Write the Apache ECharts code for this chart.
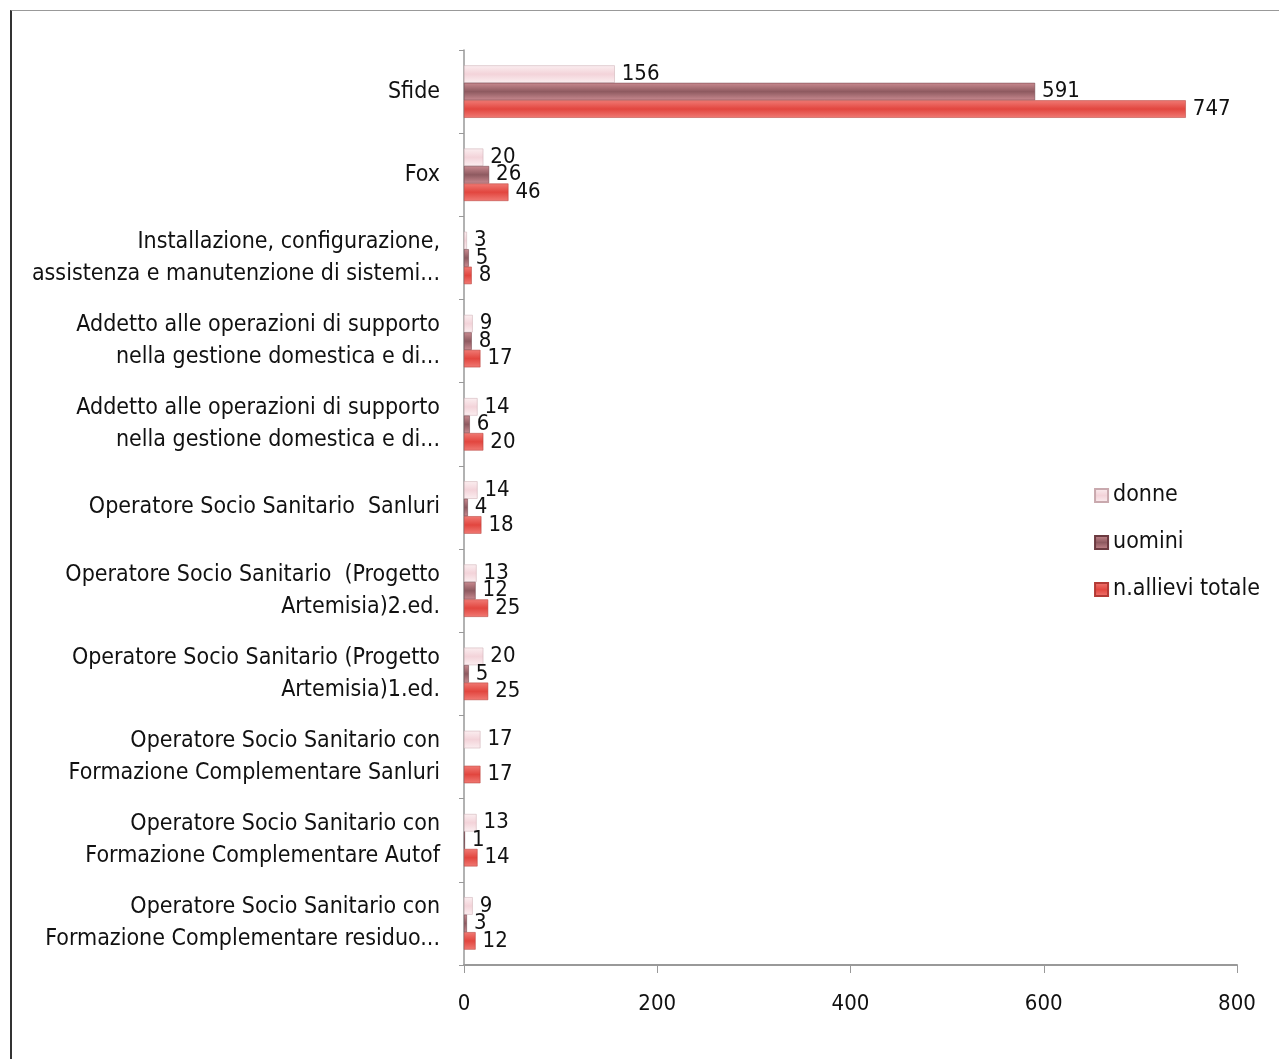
<!DOCTYPE html>
<html>
<head>
<meta charset="utf-8">
<script src="https://cdn.jsdelivr.net/npm/echarts@6/dist/echarts.min.js"></script>
<style>
  html, body { margin: 0; padding: 0; background: #fff; }
  #frame { position: absolute; left: 10px; top: 10px; width: 1290px; height: 1070px;
           border-left: 2px solid #333; border-top: 1px solid #999; }
  #chart { position: absolute; left: 0; top: 0; width: 1279px; height: 1059px; }
</style>
</head>
<body>
<div id="frame"></div>
<div id="chart"></div>
<script>
const categories = [
  "Sfide",
  "Fox",
  "Installazione, configurazione,\nassistenza e manutenzione di sistemi...",
  "Addetto alle operazioni di supporto\nnella gestione domestica e di...",
  "Addetto alle operazioni di supporto\nnella gestione domestica e di...",
  "Operatore Socio Sanitario  Sanluri",
  "Operatore Socio Sanitario  (Progetto\nArtemisia)2.ed.",
  "Operatore Socio Sanitario (Progetto\nArtemisia)1.ed.",
  "Operatore Socio Sanitario con\nFormazione Complementare Sanluri",
  "Operatore Socio Sanitario con\nFormazione Complementare Autof",
  "Operatore Socio Sanitario con\nFormazione Complementare residuo..."
];
const donne = [156, 20, 3, 9, 14, 14, 13, 20, 17, 13, 9];
const uomini = [591, 26, 5, 8, 6, 4, 12, 5, null, 1, 3];
const totale = [747, 46, 8, 17, 20, 18, 25, 25, 17, 14, 12];
const xTicks = { min: 0, max: 800, interval: 200 };

const font = "'Liberation Sans Narrow', 'DejaVu Sans Condensed', 'Open Sans', sans-serif";

function grad(c1, c2, c3) {
  return new echarts.graphic.LinearGradient(0, 0, 0, 1, [
    { offset: 0, color: c1 },
    { offset: 0.5, color: c2 },
    { offset: 1, color: c3 }
  ]);
}

function makeSeries(name, data, color, edge) {
  return {
    name: name,
    type: "bar",
    data: data,
    barGap: "0%",
    barCategoryGap: "37%",
    itemStyle: { color: color, borderColor: edge, borderWidth: 0.5 },
    label: {
      show: true,
      position: "right",
      distance: 7,
      color: "#111",
      fontSize: 22,
      fontFamily: font
    }
  };
}

const chart = echarts.init(document.getElementById("chart"));
chart.setOption({
  backgroundColor: "transparent",
  animation: false,
  grid: { left: 464, right: 42, top: 50, bottom: 94 },
  legend: {
    orient: "vertical",
    right: 14,
    top: 479,
    itemWidth: 13,
    itemHeight: 13,
    itemGap: 24,
    icon: "rect",
    textStyle: { fontSize: 23, fontFamily: font, color: "#111" },
    data: ["donne", "uomini", "n.allievi totale"]
  },
  xAxis: {
    type: "value",
    min: xTicks.min,
    max: xTicks.max,
    interval: xTicks.interval,
    axisLine: { show: true, lineStyle: { color: "#999", width: 2 } },
    axisTick: { show: true, length: 8, lineStyle: { color: "#999" } },
    axisLabel: { margin: 28, fontSize: 22, fontFamily: font, color: "#111" },
    splitLine: { show: false }
  },
  yAxis: {
    type: "category",
    inverse: true,
    data: categories,
    axisLine: { show: true, lineStyle: { color: "#999", width: 1.5 } },
    axisTick: { show: true, length: 5, lineStyle: { color: "#999" } },
    axisLabel: { margin: 24, fontSize: 23, lineHeight: 32, fontFamily: font, color: "#111", align: "right" }
  },
  series: [
    makeSeries("donne", donne, grad("#fbeef0", "#f3d3d9", "#fbeef0"), "#c9a9ae"),
    makeSeries("uomini", uomini, grad("#c98a90", "#8e5a60", "#c98a90"), "#6b3a40"),
    makeSeries("n.allievi totale", totale, grad("#f07a74", "#e2463f", "#f07a74"), "#b33a35")
  ]
});
</script>
</body>
</html>
